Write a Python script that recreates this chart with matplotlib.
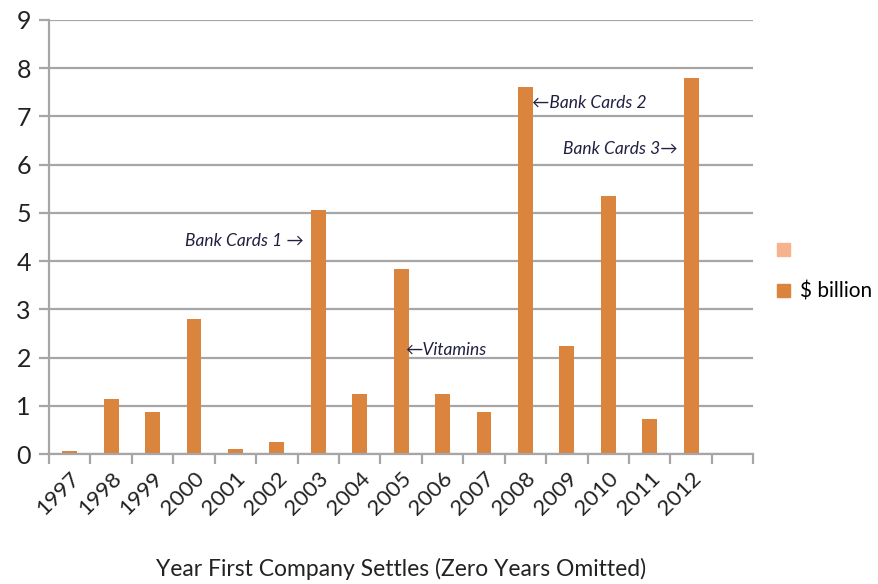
import matplotlib.pyplot as plt
from matplotlib.patches import Patch
import numpy as np

plt.rcParams['font.family'] = ['Lato', 'DejaVu Sans']

# data
years = ['1997', '1998', '1999', '2000', '2001', '2002', '2003', '2004',
         '2005', '2006', '2007', '2008', '2009', '2010', '2011', '2012']
billions = [0.07, 1.15, 0.87, 2.80, 0.10, 0.25, 5.06, 1.24,
            3.84, 1.24, 0.87, 7.61, 2.23, 5.35, 0.72, 7.79]
notes = [('Bank Cards 1 \u2192', 5.65, 4.42, 'right'),
         ('\u2190Vitamins', 8.1, 2.16, 'left'),
         ('\u2190Bank Cards 2', 11.16, 7.28, 'left'),
         ('Bank Cards 3\u2192', 14.68, 6.33, 'right')]

bar_color = '#DA843E'
grid_color = '#A6A6A6'

fig = plt.figure(figsize=(8.79, 5.84), dpi=100)
ax = fig.add_axes([0.0557, 0.2226, 0.8013, 0.7432])

x = np.arange(len(years))
ax.bar(x, billions, width=0.36, color=bar_color, zorder=3)

ax.set_xlim(-0.5, len(years) + 0.5)
ax.set_ylim(0, 9)
ax.set_yticks(range(10))
ax.yaxis.grid(True, color=grid_color, linewidth=1.6, zorder=0)

# tick marks at slot boundaries, labels at slot centres
ax.set_xticks(np.arange(len(years) + 2) - 0.5)
ax.set_xticklabels([])
ax.set_xticks(x, minor=True)
ax.set_xticklabels(years, minor=True, rotation=45, ha='right',
                   rotation_mode='anchor', fontsize=16, color='#222222')
ax.tick_params(axis='x', which='major', length=7, width=1.6, color=grid_color)
ax.tick_params(axis='x', which='minor', length=0, pad=10)
ax.tick_params(axis='y', length=7, width=1.6, color=grid_color,
               labelsize=18, labelcolor='#222222', pad=6)

for side in ['top', 'right']:
    ax.spines[side].set_visible(False)
for side in ['left', 'bottom']:
    ax.spines[side].set_color(grid_color)
    ax.spines[side].set_linewidth(1.6)
    ax.spines[side].set_zorder(4)

ax.set_xlabel('Year First Company Settles (Zero Years Omitted)',
              fontsize=16.5, color='#222222', labelpad=28)

for txt, xx, yy, ha in notes:
    ax.text(xx, yy, txt, ha=ha, va='center', fontsize=12.5, style='italic',
            color='#202040', zorder=5)

handles = [Patch(color='#F7B38D'), Patch(color=bar_color)]
fig.legend(handles, ['', '$ billion'], loc='center left',
           bbox_to_anchor=(0.884, 0.535), frameon=False, fontsize=15,
           handlelength=0.6, handleheight=0.6, handletextpad=0.5,
           labelspacing=1.0, borderpad=0, borderaxespad=0)

plt.savefig('out.png', dpi=100)
